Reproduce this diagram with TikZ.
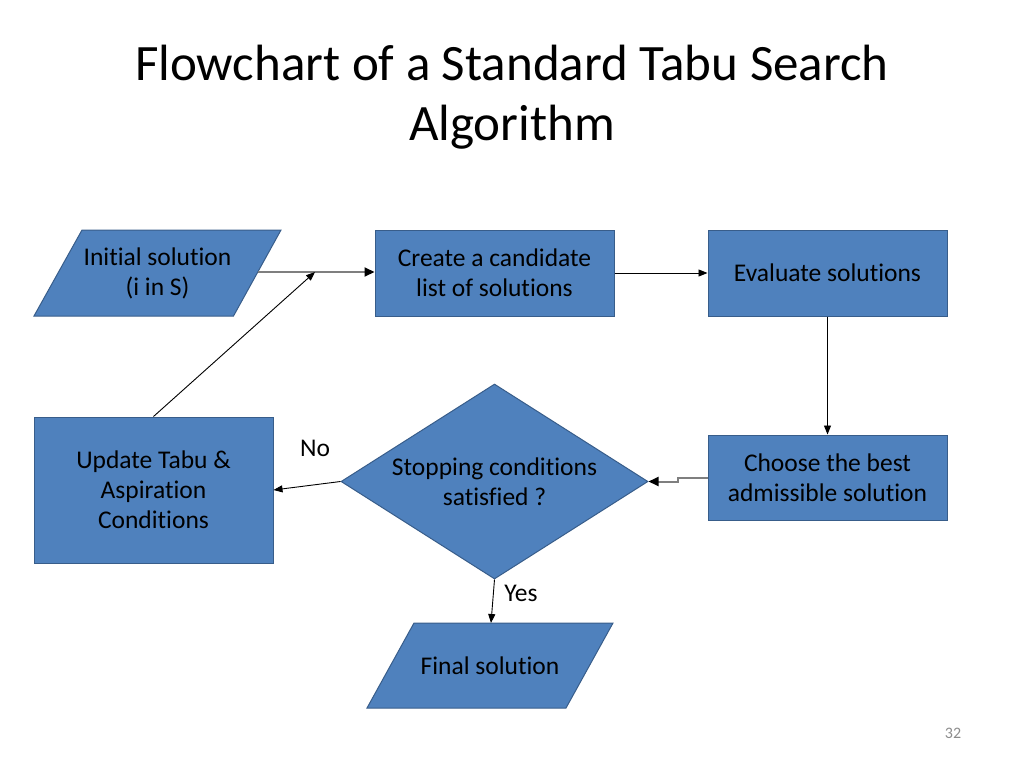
\documentclass[tikz,border=0pt]{standalone}
\usepackage{fontspec}
\setmainfont{Carlito}[Ligatures={NoCommon}]
\usetikzlibrary{shapes.geometric,arrows.meta}
\definecolor{boxfill}{HTML}{4F81BD}
\definecolor{boxline}{HTML}{385D8A}
\definecolor{greyline}{HTML}{7F7F7F}
\definecolor{pagenum}{HTML}{8C8C8C}
\begin{document}
\begin{tikzpicture}[x=1pt,y=-1pt,
  txt/.style={font=\fontsize{25.5}{30}\selectfont, align=center, text=black},
  boxrect/.style={draw=boxline, fill=boxfill, line width=1pt, inner sep=0pt, txt},
  parashape/.style={draw=boxline, fill=boxfill, line width=1pt},
  dia/.style={diamond, aspect=1.574, draw=boxline, fill=boxfill, line width=1pt, inner sep=0pt, minimum width=307pt, minimum height=195pt, txt},
  blk/.style={draw=black, line width=0.9pt, -{Triangle[length=9pt,width=7pt]}},
  gry/.style={draw=greyline, line width=2pt, -{Triangle[length=10pt,width=9pt,color=black]}}
]
\useasboundingbox (0,0) rectangle (1024,768);
% title
\node[font=\fontsize{51}{60}\selectfont, align=center, anchor=center] (title) at (512,97) {Flowchart of a Standard Tabu Search\\Algorithm};
% initial solution (parallelogram)
\coordinate (ic) at (157.5,273);
\draw[parashape] ([shift={(-123.5,43)}]ic) -- ([shift={(76,43)}]ic) -- ([shift={(123.5,-43)}]ic) -- ([shift={(-75.5,-43)}]ic) -- cycle;
\node[txt] (init) at (ic) {Initial solution\\(i in S)};
\coordinate (inite) at (258,272);
% boxes
\node[boxrect, minimum width=239pt, minimum height=86pt] (create) at (494.5,273) {Create a candidate\\list of solutions};
\node[boxrect, minimum width=239pt, minimum height=86pt] (eval) at (827.5,273) {Evaluate solutions};
\node[boxrect, minimum width=239pt, minimum height=146pt] (update) at (153.5,490) {Update Tabu \&\\Aspiration\\Conditions};
\node[dia] (stop) at (494.5,481.5) {Stopping conditions\\satisfied ?};
\node[boxrect, minimum width=239pt, minimum height=85pt] (choose) at (827.5,477.5) {Choose the best\\admissible solution};
% final solution (parallelogram)
\coordinate (fc) at (490,665.5);
\draw[parashape] ([shift={(-123,42.5)}]fc) -- ([shift={(76,42.5)}]fc) -- ([shift={(123,-42.5)}]fc) -- ([shift={(-76,-42.5)}]fc) -- cycle;
\node[txt] (final) at (fc) {Final solution};
\coordinate (finaltop) at (491,623);
% connectors
\coordinate (merge) at (315,272);
\draw[gry] (inite) -- (create.west |- merge);
\draw[blk] (create.east) -- (eval.west);
\draw[blk] (eval.south) -- (choose.north);
\draw[gry] (choose.west |- 0,477.5) -- (678,477.5) -- (678,481.5) -- (stop.east);
\draw[blk] (stop.west) -- (update.east |- 0,490);
\draw[blk] (stop.south) -- (finaltop);
\draw[blk] (update.north) -- (merge);
% labels
\node[txt] (no) at (315,448) {No};
\node[txt] (yes) at (521,593) {Yes};
\node[font=\fontsize{16}{18}\selectfont, text=pagenum] (page) at (953,733) {32};
\end{tikzpicture}
\end{document}
